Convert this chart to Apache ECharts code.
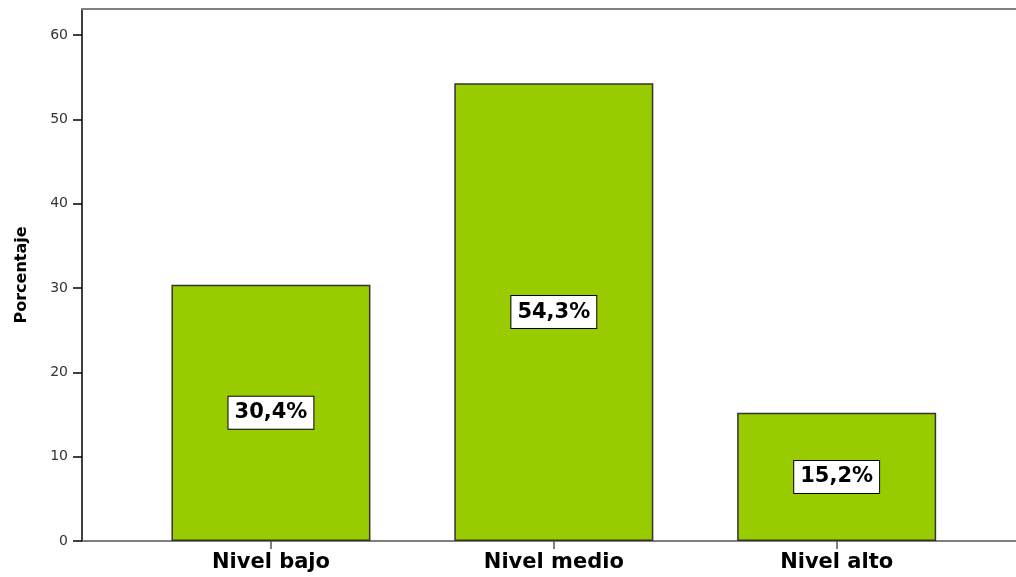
<!DOCTYPE html>
<html>
<head>
<meta charset="utf-8">
<script src="https://cdn.jsdelivr.net/npm/echarts@6/dist/echarts.min.js"></script>
<style>html,body{margin:0;padding:0;background:#fff}#c{width:1016px;height:577px}</style>
</head>
<body>
<div id="c"></div>
<script>
var categories = ['Nivel bajo', 'Nivel medio', 'Nivel alto'];
var percentages = [30.4, 54.3, 15.2];
var yTicks = [0, 10, 20, 30, 40, 50, 60];
var yMax = 63.1;
var xMin = -0.668, xMax = 2.634;

var chart = echarts.init(document.getElementById('c'), null, {renderer: 'canvas'});
var barData = percentages.map(function (v, i) { return [i, v]; });
chart.setOption({
  animation: false,
  backgroundColor: '#ffffff',
  grid: {left: 82, right: 0, top: 9, bottom: 36},
  xAxis: [{
    type: 'value', min: xMin, max: xMax,
    splitLine: {show: false},
    axisLine: {show: true, onZero: false, lineStyle: {color: '#555', width: 1.5}},
    axisTick: {show: true, length: 8, lineStyle: {color: '#555', width: 1.5}, customValues: [0, 1, 2]},
    axisLabel: {
      customValues: [0, 1, 2], margin: 11,
      fontFamily: 'DejaVu Sans', fontWeight: 'bold', fontSize: 21, color: '#000',
      formatter: function (v) { return categories[Math.round(v)] || ''; }
    }
  }, {
    type: 'value', position: 'top', min: xMin, max: xMax,
    splitLine: {show: false}, axisTick: {show: false}, axisLabel: {show: false},
    axisLine: {show: true, onZero: false, lineStyle: {color: '#808080', width: 2}}
  }],
  yAxis: {
    type: 'value', min: 0, max: yMax, position: 'left',
    name: 'Porcentaje', nameLocation: 'middle', nameGap: 52,
    nameTextStyle: {fontFamily: 'DejaVu Sans', fontWeight: 'bold', fontSize: 16, color: '#000'},
    splitLine: {show: false},
    axisLine: {show: true, onZero: false, lineStyle: {color: '#000', width: 1.5}},
    axisTick: {show: true, length: 9, customValues: yTicks, lineStyle: {color: '#000', width: 1.5}},
    axisLabel: {customValues: yTicks, margin: 14, fontFamily: 'DejaVu Sans', fontSize: 14, color: '#333'}
  },
  series: [{
    type: 'bar', xAxisIndex: 0, data: barData, barWidth: 199,
    itemStyle: {color: '#99cc00', borderColor: '#333', borderWidth: 1.5},
    label: {
      show: true, position: 'inside',
      formatter: function (p) { return p.value[1].toFixed(1).replace('.', ',') + '%'; },
      fontFamily: 'DejaVu Sans', fontWeight: 'bold', fontSize: 21, color: '#000',
      backgroundColor: '#fff', borderColor: '#000', borderWidth: 1,
      padding: [4, 6, 3, 6], lineHeight: 25
    }
  }]
});
</script>
</body>
</html>
